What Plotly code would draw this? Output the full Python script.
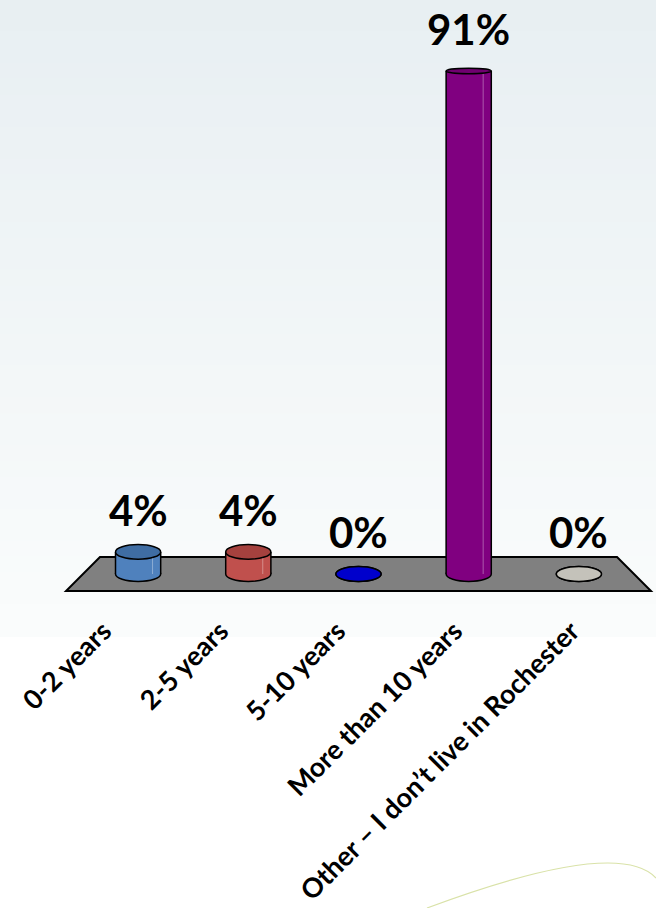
import plotly.graph_objects as go

# --- data ---
categories = ["0-2 years", "2-5 years", "5-10 years", "More than 10 years",
              "Other – I don’t live in Rochester"]
percent = [4, 4, 0, 91, 0]
labels = ["4%", "4%", "0%", "91%", "0%"]

side_colors = ["#4F81BD", "#C0504D", "#0000CC", "#800080", "#C4C2BA"]
top_colors = ["#3F6DA3", "#A5413E", "#0000B0", "#700070", "#B8B6AE"]

W, H = 656, 908
FONT = "Lato"


def tx(px):
    return max(0.0, min(1.0, px / W))


def ty(py):
    return max(0.0, min(1.0, 1 - py / H))


# geometry of the pseudo-3D look (data units)
bar_w = 0.41          # cylinder width
ell_h = 1.36          # half height of the end ellipses
floor_d = 3.08        # half depth of the floor
floor_skew = 0.154    # horizontal skew of floor edges

pos = list(range(len(categories)))
x_lo, x_hi = pos[0] - 0.5, pos[-1] + 0.5

# bar axis: slot centres on the floor's middle line
bar_left_px, slot_px = 83, 110.2
x_rng = [x_lo - 0.2, x_hi + (W - (bar_left_px + 5 * slot_px)) / slot_px]
# label axis: slot centres on the floor's front edge
lab_left_px, lab_slot_px = 66, 117
x2_rng = [x_lo, x_lo + (W - lab_left_px) / lab_slot_px]

fig = go.Figure()
fig.add_trace(go.Bar(x=pos, y=percent, width=bar_w, marker_color=side_colors,
                     marker_line_width=0, hoverinfo="skip", showlegend=False))
# invisible trace that carries the front-edge label axis
fig.add_trace(go.Scatter(x=pos, y=percent, xaxis="x2", yaxis="y", mode="markers",
                         marker_opacity=0, hoverinfo="skip", showlegend=False))

shapes = []
# soft background gradient
n_bands = 40
top_rgb, bot_rgb = (232, 239, 242), (250, 252, 252)
grad_end = 637
for k in range(n_bands):
    t = k / (n_bands - 1)
    c = tuple(round(a + (b - a) * t) for a, b in zip(top_rgb, bot_rgb))
    y1 = ty(grad_end * k / n_bands)
    y0 = ty(grad_end * (k + 1) / n_bands)
    shapes.append(dict(type="rect", xref="paper", yref="paper", x0=0, x1=1, y0=y0, y1=y1 + 0.001,
                       fillcolor="rgb(%d,%d,%d)" % c, line_width=0, layer="below"))

# decorative arc bottom right
shapes.append(dict(type="path", xref="paper", yref="paper",
                   path="M %.4f,%.4f Q %.4f,%.4f %.4f,%.4f" % (
                       427 / W, 1 - 908 / H, 618 / W, 1 - 837 / H, 656 / W, 1 - 878 / H),
                   line=dict(color="#D9E2A8", width=1.2), layer="below"))

# floor
floor_path = "M {},{} L {},{} L {},{} L {},{} Z".format(
    x_lo + floor_skew, floor_d, x_hi - floor_skew, floor_d,
    x_hi + floor_skew, -floor_d, x_lo - floor_skew, -floor_d)
shapes.append(dict(type="path", xref="x", yref="y", path=floor_path,
                   fillcolor="#808080", line=dict(color="black", width=2), layer="below"))

for p, v, sc, tc in zip(pos, percent, side_colors, top_colors):
    # base ellipse (lower half shows under the cylinder)
    shapes.append(dict(type="circle", xref="x", yref="y", x0=p - bar_w / 2, x1=p + bar_w / 2,
                       y0=-ell_h, y1=ell_h, fillcolor=sc, line=dict(color="black", width=1.5),
                       layer="below"))
    if v > 0:
        for sx in (p - bar_w / 2, p + bar_w / 2):
            shapes.append(dict(type="line", xref="x", yref="y", x0=sx, x1=sx, y0=0, y1=v,
                               line=dict(color="black", width=1.5)))
        # light highlight stripe
        hx = p + bar_w * 0.32
        shapes.append(dict(type="line", xref="x", yref="y", x0=hx, x1=hx, y0=0, y1=v,
                           line=dict(color="rgba(255,255,255,0.35)", width=1)))
    # top ellipse, flatter the higher it sits (perspective)
    th = ell_h * (1 - 0.7 * v / 100)
    shapes.append(dict(type="circle", xref="x", yref="y", x0=p - bar_w / 2, x1=p + bar_w / 2,
                       y0=v - th, y1=v + th, fillcolor=tc if v > 0 else sc,
                       line=dict(color="black", width=1.5)))

annotations = [dict(x=p, y=v, xref="x", yref="y", text="<b>%s</b>" % t, showarrow=False,
                    yanchor="bottom", yshift=15, font=dict(family=FONT, size=42, color="black"))
               for p, v, t in zip(pos, percent, labels)]

px_per_unit = 5.527
y_min, y_max = -10, 100
y_zero_px = 574
fig.update_layout(
    template="none",
    width=W, height=H,
    margin=dict(l=0, r=0, t=0, b=0, autoexpand=False),
    paper_bgcolor="white", plot_bgcolor="rgba(0,0,0,0)",
    shapes=shapes, annotations=annotations,
    xaxis=dict(domain=[tx(bar_left_px + (x_rng[0] - x_lo) * slot_px), 1.0], range=x_rng,
               visible=False, fixedrange=True, automargin=False),
    xaxis2=dict(domain=[tx(lab_left_px), 1.0], range=x2_rng, anchor="free", automargin=False,
                position=ty(591), tickvals=pos, ticktext=["<b>%s</b>" % c for c in categories],
                tickangle=-45, showgrid=False, zeroline=False, showline=False, ticks="",
                ticklabelshift=-21, ticklabelstandoff=18,
                tickfont=dict(family=FONT, size=27, color="black")),
    yaxis=dict(domain=[ty(y_zero_px - y_min * px_per_unit), ty(y_zero_px - y_max * px_per_unit)],
               range=[y_min, y_max], visible=False, fixedrange=True, automargin=False),
    bargap=0,
)

# drop the browser's default body margin so the figure fills the window
fig.write_html("out.html", config={"displayModeBar": False},
               post_script="document.body.style.margin='0';")
